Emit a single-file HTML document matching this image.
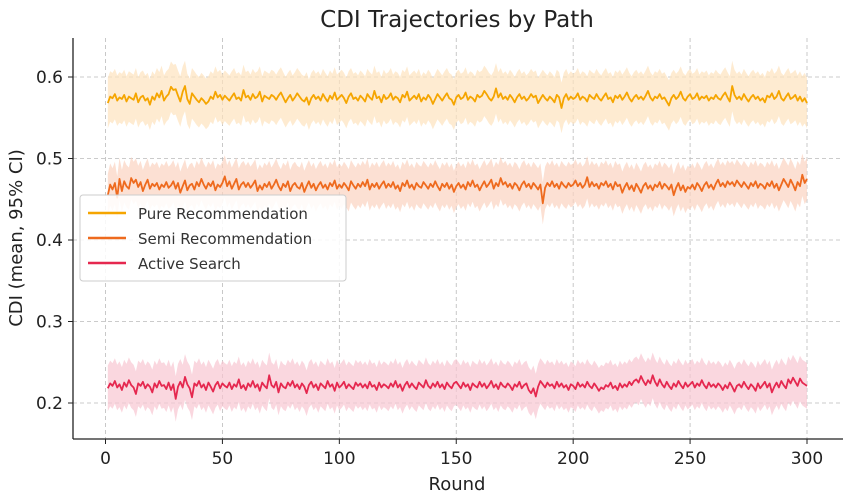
<!DOCTYPE html>
<html><head><meta charset="utf-8"><style>
html,body{margin:0;padding:0;background:#fff;}
svg{display:block;font-family:"DejaVu Sans","Liberation Sans",sans-serif;}
</style></head><body>
<svg id="chart" width="851" height="497" viewBox="0 0 851 497">
<text x="457" y="27" font-size="23" text-anchor="middle" fill="#222">CDI Trajectories by Path</text>
<g id="grid"></g>
<g id="bands"></g>
<g id="lines"></g>
<g id="axes"></g>
<text x="457" y="490" font-size="18" text-anchor="middle" fill="#222">Round</text>
<text transform="translate(22,238) rotate(-90)" font-size="18" text-anchor="middle" fill="#222">CDI (mean, 95% CI)</text>
<g>
<rect x="80" y="195" width="266" height="86" rx="3" fill="#fff" fill-opacity="0.85" stroke="#ccc"/>
<g><line x1="88" y1="213" x2="126" y2="213" stroke="#f5a500" stroke-width="2.5"/><text x="138" y="219" font-size="15" fill="#333">Pure Recommendation</text></g>
<g><line x1="88" y1="238" x2="126" y2="238" stroke="#ee6a1e" stroke-width="2.5"/><text x="138" y="244" font-size="15" fill="#333">Semi Recommendation</text></g>
<g><line x1="88" y1="263" x2="126" y2="263" stroke="#e5284f" stroke-width="2.5"/><text x="138" y="269" font-size="15" fill="#333">Active Search</text></g>
</g>
</svg>
<script>
const xTicks=[0,50,100,150,200,250,300];
const yTicks=[0.2,0.3,0.4,0.5,0.6];
const yTickLabels=["0.2","0.3","0.4","0.5","0.6"];
const seriesNames=["Pure Recommendation","Semi Recommendation","Active Search"];
const ciHalf=[0.031,0.026,0.028];
const pure=[.568,.576,.574,.579,.571,.575,.573,.578,.570,.576,.574,.572,.580,.569,.575,.577,.571,.574,.566,.576,.572,.580,.575,.583,.571,.576,.579,.588,.584,.585,.577,.570,.582,.589,.573,.567,.580,.576,.572,.569,.574,.571,.567,.570,.576,.573,.582,.575,.578,.572,.577,.574,.571,.576,.580,.573,.575,.571,.584,.575,.577,.572,.579,.574,.576,.582,.570,.577,.575,.573,.578,.576,.572,.577,.581,.575,.569,.574,.578,.571,.575,.580,.576,.572,.570,.575,.566,.574,.578,.573,.576,.571,.579,.574,.570,.577,.573,.581,.572,.575,.578,.574,.568,.576,.580,.573,.575,.571,.577,.574,.570,.579,.575,.572,.583,.574,.576,.569,.578,.573,.575,.580,.572,.576,.574,.569,.578,.575,.582,.571,.574,.577,.573,.579,.570,.575,.572,.578,.574,.567,.573,.579,.575,.571,.576,.580,.574,.572,.566,.575,.578,.573,.575,.581,.572,.576,.574,.570,.578,.575,.577,.583,.579,.574,.571,.576,.586,.575,.580,.573,.576,.572,.578,.574,.569,.575,.579,.573,.576,.571,.574,.579,.575,.577,.568,.573,.578,.574,.571,.576,.573,.569,.578,.575,.562,.574,.579,.572,.576,.573,.575,.580,.572,.576,.574,.570,.578,.575,.573,.579,.574,.571,.576,.580,.573,.575,.569,.577,.574,.578,.572,.576,.581,.574,.570,.575,.578,.573,.576,.572,.577,.583,.575,.571,.576,.574,.579,.573,.575,.570,.565,.574,.578,.573,.576,.582,.574,.571,.576,.579,.573,.575,.580,.572,.576,.574,.577,.571,.575,.573,.578,.574,.572,.577,.581,.575,.570,.589,.578,.573,.576,.572,.579,.574,.570,.575,.578,.573,.576,.571,.574,.569,.577,.575,.580,.573,.576,.583,.574,.571,.576,.580,.573,.575,.578,.571,.576,.570,.574,.568];
const semi=[.455,.468,.462,.470,.452,.475,.460,.472,.466,.463,.476,.470,.474,.465,.471,.460,.468,.474,.463,.469,.466,.470,.462,.468,.465,.471,.464,.467,.472,.463,.470,.458,.466,.473,.461,.467,.469,.462,.471,.466,.475,.468,.463,.470,.466,.472,.461,.468,.465,.470,.478,.466,.472,.463,.469,.475,.462,.468,.471,.465,.470,.464,.468,.473,.460,.467,.462,.469,.465,.471,.463,.468,.474,.466,.461,.469,.465,.472,.460,.467,.470,.465,.463,.470,.459,.466,.472,.464,.469,.461,.467,.471,.464,.468,.462,.470,.466,.473,.463,.468,.464,.470,.466,.461,.472,.467,.463,.469,.465,.471,.466,.474,.462,.469,.465,.470,.463,.468,.472,.464,.469,.465,.471,.463,.467,.460,.470,.466,.473,.464,.468,.462,.470,.466,.464,.471,.467,.463,.469,.465,.472,.466,.461,.469,.465,.470,.463,.468,.459,.466,.470,.464,.468,.462,.471,.466,.473,.465,.468,.461,.467,.472,.465,.469,.474,.463,.470,.466,.476,.468,.471,.465,.469,.463,.470,.467,.461,.468,.472,.465,.469,.463,.470,.466,.462,.468,.445,.464,.470,.466,.472,.465,.469,.463,.471,.467,.464,.470,.466,.468,.473,.466,.470,.464,.468,.477,.465,.471,.466,.469,.463,.470,.467,.472,.465,.469,.462,.471,.466,.468,.458,.465,.470,.462,.467,.460,.469,.464,.458,.466,.470,.463,.467,.461,.468,.465,.471,.463,.469,.466,.462,.468,.455,.464,.470,.461,.467,.459,.465,.463,.468,.462,.470,.466,.460,.467,.471,.464,.468,.462,.469,.474,.466,.470,.465,.472,.468,.471,.466,.473,.469,.465,.471,.467,.463,.470,.466,.472,.464,.469,.467,.463,.470,.466,.472,.464,.469,.461,.468,.475,.470,.465,.474,.468,.461,.471,.466,.480,.470,.475];
const active=[.218,.224,.221,.227,.219,.223,.216,.225,.220,.228,.222,.219,.211,.224,.221,.226,.218,.223,.220,.213,.224,.219,.227,.221,.222,.217,.225,.216,.223,.205,.220,.226,.219,.232,.223,.218,.207,.224,.221,.227,.219,.223,.216,.225,.220,.214,.222,.226,.218,.224,.221,.219,.225,.217,.223,.220,.229,.218,.222,.216,.224,.220,.227,.219,.223,.215,.225,.221,.218,.234,.222,.219,.226,.213,.224,.220,.218,.225,.221,.227,.219,.223,.217,.224,.220,.212,.222,.226,.219,.223,.216,.224,.221,.218,.227,.220,.223,.215,.225,.219,.222,.226,.218,.223,.220,.217,.225,.221,.224,.219,.223,.218,.226,.220,.222,.216,.225,.219,.223,.221,.218,.224,.220,.227,.219,.223,.215,.222,.226,.219,.224,.220,.217,.225,.222,.219,.228,.221,.218,.224,.220,.226,.219,.223,.217,.225,.221,.218,.224,.226,.222,.218,.225,.220,.223,.216,.224,.221,.219,.226,.220,.224,.218,.222,.227,.219,.223,.217,.225,.221,.219,.224,.221,.216,.223,.220,.226,.218,.222,.224,.216,.212,.218,.208,.220,.227,.223,.219,.225,.221,.223,.218,.226,.220,.224,.219,.222,.216,.223,.221,.217,.225,.220,.223,.219,.226,.221,.218,.224,.220,.215,.219,.217,.222,.220,.225,.218,.221,.216,.224,.219,.223,.220,.226,.222,.227,.229,.225,.233,.227,.222,.228,.224,.234,.226,.221,.229,.223,.219,.226,.221,.217,.224,.220,.227,.222,.218,.225,.220,.223,.226,.219,.224,.221,.228,.222,.218,.225,.220,.223,.219,.224,.221,.216,.222,.218,.225,.220,.214,.221,.223,.219,.226,.221,.217,.223,.220,.215,.224,.218,.222,.226,.219,.224,.213,.220,.225,.219,.227,.222,.218,.229,.224,.231,.226,.221,.230,.225,.223,.221];
const rounds=pure.map((_,i)=>i+1);

const NS="http://www.w3.org/2000/svg";
const X0=73,X1=843,Y0=38,Y1=439;
function xs(v){return 105.5+(v-0)*(807-105.5)/300;}
function ys(v){return 403-(v-0.2)*815;}
function mk(tag,attrs,parent){const e=document.createElementNS(NS,tag);for(const k in attrs)e.setAttribute(k,attrs[k]);parent.appendChild(e);return e;}
const grid=document.getElementById('grid'),axes=document.getElementById('axes');
xTicks.forEach(t=>{
  const g=mk('line',{x1:xs(t),x2:xs(t),y1:Y0,y2:Y1,stroke:'#bbb','stroke-dasharray':'4,3','stroke-width':0.8},grid);
  
  
  const tk=mk('line',{x1:xs(t),x2:xs(t),y1:Y1,y2:Y1+5,stroke:'#222','stroke-width':1},axes);
  
  
  const lb=mk('text',{x:xs(t),y:Y1+25,'font-size':17,'text-anchor':'middle',fill:'#222'},axes);
  lb.textContent=String(t);
  
  
});
yTicks.forEach((t,i)=>{
  const g=mk('line',{x1:X0,x2:X1,y1:ys(t),y2:ys(t),stroke:'#bbb','stroke-dasharray':'4,3','stroke-width':0.8},grid);
  
  
  const tk=mk('line',{x1:X0-5,x2:X0,y1:ys(t),y2:ys(t),stroke:'#222','stroke-width':1},axes);
  
  
  const lb=mk('text',{x:X0-10,y:ys(t)+6,'font-size':17,'text-anchor':'end',fill:'#222'},axes);
  lb.textContent=yTickLabels[i];
  
  
});
const sp1=mk('line',{x1:X0,x2:X0,y1:Y0,y2:Y1,stroke:'#222','stroke-width':1.3},axes);


const sp2=mk('line',{x1:X0,x2:X1,y1:Y1,y2:Y1,stroke:'#222','stroke-width':1.3},axes);



const allSeries=[pure,semi,active];
const colors=['#f5a500','#ee6a1e','#e5284f'];
const bandColors=['#fde3bd','#fbd3c0','#f8c6d2'];
const keys=['pure','semi','active'];
const bands=document.getElementById('bands'),lines=document.getElementById('lines');
allSeries.forEach((s,k)=>{
  let up=s.map((v,i)=>xs(rounds[i]).toFixed(1)+','+ys(v+ciHalf[k]).toFixed(1));
  let lo=s.map((v,i)=>xs(rounds[i]).toFixed(1)+','+ys(v-ciHalf[k]).toFixed(1)).reverse();
  const b=mk('polygon',{points:up.concat(lo).join(' '),fill:bandColors[k],'fill-opacity':0.7},bands);
  
  
  const l=mk('polyline',{points:s.map((v,i)=>xs(rounds[i]).toFixed(1)+','+ys(v).toFixed(1)).join(' '),fill:'none',stroke:colors[k],'stroke-width':1.8,'stroke-linejoin':'round'},lines);
  
  
});
</script>
</body></html>
